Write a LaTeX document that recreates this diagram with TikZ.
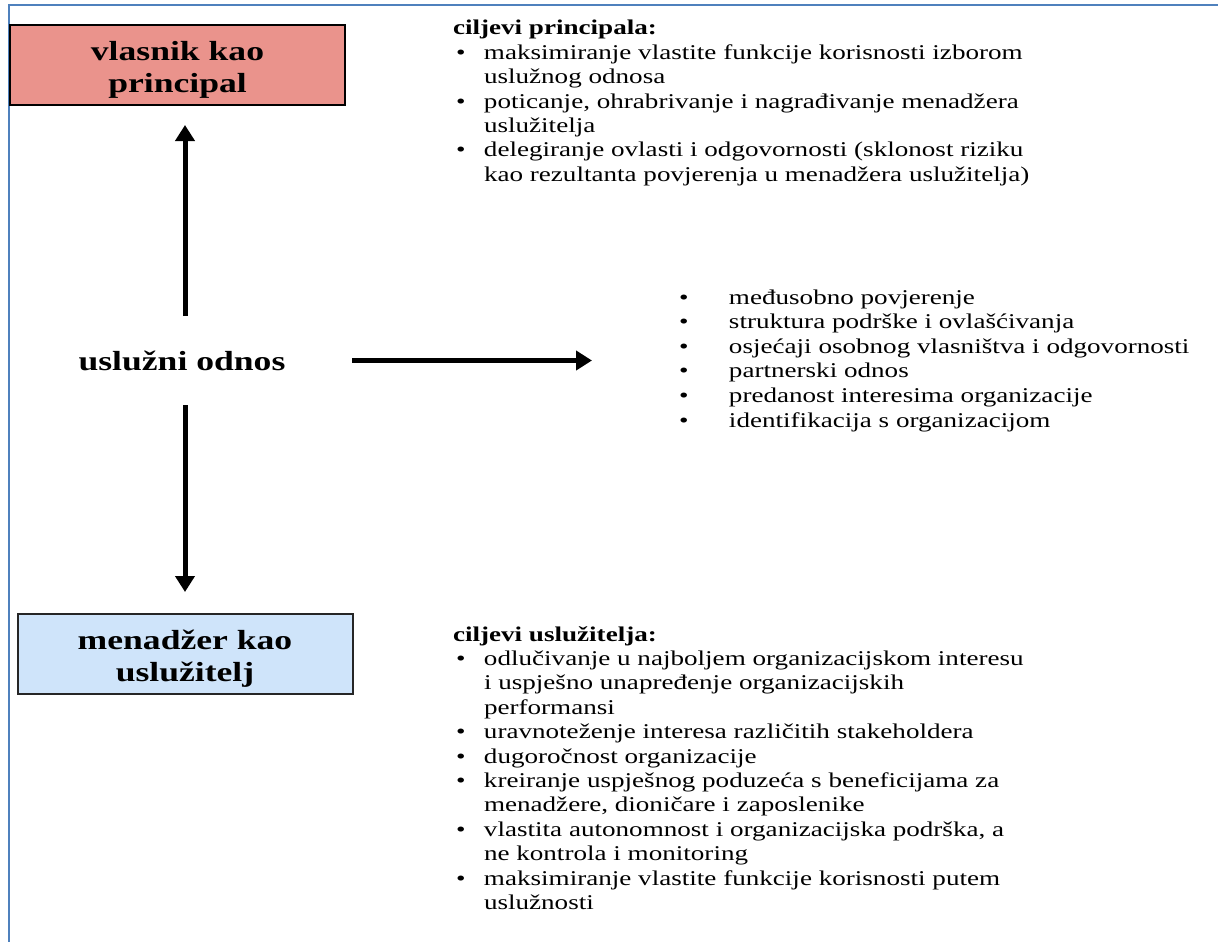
\documentclass[tikz,border=0pt]{standalone}
\usepackage{fontspec}
\setmainfont[FakeStretch=1.29]{Liberation Serif}
\usetikzlibrary{arrows.meta}
\definecolor{frameblue}{RGB}{79,129,189}
\definecolor{boxred}{RGB}{234,147,140}
\definecolor{boxblue}{RGB}{207,228,250}
\newcommand{\itm}{\hspace*{3pt}\makebox[28pt][l]{•}}
\newcommand{\cnt}{\hspace*{31pt}}
\newcommand{\ritm}{\hspace*{1pt}\makebox[50pt][l]{•}}
\newcommand{\topstrut}{\rule{0pt}{29pt}}
\begin{document}
\begin{tikzpicture}[x=1pt,y=-1pt,
  box/.style={rectangle, line width=2pt, outer sep=0pt, inner sep=0pt, align=center,
    font=\fontsize{27.6}{32.5}\selectfont\bfseries,
    minimum width=335pt, minimum height=80pt},
  listtext/.style={anchor=base west, inner sep=0pt, outer sep=0pt, font=\fontsize{21}{24.4}\selectfont},
  arr/.style={line width=5pt, -{Triangle[width=19pt,length=16pt]}}
]
\useasboundingbox (0,0) rectangle (1218,942);
\fill[white] (0,0) rectangle (1218,942);
% frame
\draw[frameblue, line width=2pt] (9,942) -- (9,5) -- (1218,5);

% boxes
\node[box, fill=boxred, draw=black] (vl) at (177.5,65) {\topstrut vlasnik kao\\principal};
\node[box, fill=boxblue, draw=black!85] (mg) at (185,654) {\topstrut menadžer kao\\uslužitelj};
\node[inner sep=0pt, outer sep=0pt, minimum width=334pt, minimum height=89pt,
      font=\fontsize{27.6}{31}\selectfont\bfseries] (usl) at (185,360.5) {uslužni odnos\kern6pt};

% lists
\node[listtext] (pl) at (453,35) {\parbox[t]{760pt}{\raggedright\lineskiplimit=-20pt
\textbf{ciljevi principala:}\\
\itm maksimiranje vlastite funkcije korisnosti izborom\\
\cnt uslužnog odnosa\\
\itm poticanje, ohrabrivanje i nagrađivanje menadžera\\
\cnt uslužitelja\\
\itm delegiranje ovlasti i odgovornosti (sklonost riziku\\
\cnt kao rezultanta povjerenja u menadžera uslužitelja)}};

\node[listtext, font=\fontsize{21}{24.6}\selectfont] (rl) at (678,304) {\parbox[t]{760pt}{\raggedright\lineskiplimit=-20pt
\ritm međusobno povjerenje\\
\ritm struktura podrške i ovlašćivanja\\
\ritm osjećaji osobnog vlasništva i odgovornosti\\
\ritm partnerski odnos\\
\ritm predanost interesima organizacije\\
\ritm identifikacija s organizacijom}};

\node[listtext] (ml) at (453,641) {\parbox[t]{760pt}{\raggedright\lineskiplimit=-20pt
\textbf{ciljevi uslužitelja:}\\
\itm odlučivanje u najboljem organizacijskom interesu\\
\cnt i uspješno unapređenje organizacijskih\\
\cnt performansi\\
\itm uravnoteženje interesa različitih stakeholdera\\
\itm dugoročnost organizacije\\
\itm kreiranje uspješnog poduzeća s beneficijama za\\
\cnt menadžere, dioničare i zaposlenike\\
\itm vlastita autonomnost i organizacijska podrška, a\\
\cnt ne kontrola i monitoring\\
\itm maksimiranje vlastite funkcije korisnosti putem\\
\cnt uslužnosti}};

% arrows
\draw[arr, shorten >=20pt] (usl.north) -- (usl.north |- vl.south);
\draw[arr, shorten >=22pt] (usl.south) -- (usl.south |- mg.north);
\draw[arr, shorten >=86pt] (usl.east) -- (usl.east -| rl.west);
\end{tikzpicture}
\end{document}
